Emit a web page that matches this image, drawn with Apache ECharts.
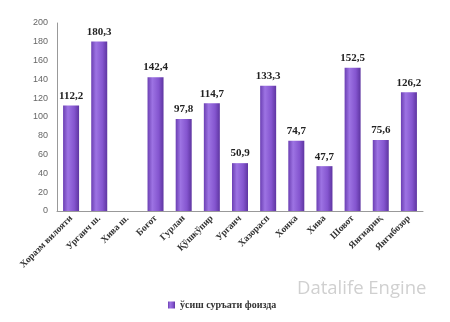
<!DOCTYPE html>
<html><head><meta charset="utf-8">
<script src="https://cdn.jsdelivr.net/npm/echarts@6/dist/echarts.min.js"></script>
<style>html,body{margin:0;padding:0;background:#fff}#c{width:450px;height:322px}</style>
</head><body><div id="c"></div>
<script>
var categories = ["Хоразм вилояти","Урганч ш.","Хива ш.","Боғот","Гурлан","Қўшкўпир","Урганч","Хазорасп","Хонка","Хива","Шовот","Янгиариқ","Янгибозор"];
var values = [112.2,180.3,null,142.4,97.8,114.7,50.9,133.3,74.7,47.7,152.5,75.6,126.2];
var seriesName = "ўсиш суръати фоизда";
var chart = echarts.init(document.getElementById('c'));
chart.setOption({
  animation:false,
  grid:{left:57,right:27,top:23,bottom:111},
  legend:{bottom:7,left:163,itemWidth:7,itemHeight:7,itemGap:3,
    textStyle:{fontFamily:'Liberation Serif',fontWeight:'bold',fontSize:10,color:'#333'},
    data:[{name:seriesName,icon:'rect'}]},
  graphic:[{type:'text',left:297,top:279,style:{text:'Datalife Engine',fontFamily:'Open Sans',fontSize:18.5,fill:'#d0d0d0'}}],
  xAxis:{type:'category',data:categories,
    axisLine:{lineStyle:{color:'#999'}},axisTick:{show:false},
    axisLabel:{rotate:45,interval:0,fontFamily:'Liberation Serif',fontWeight:'bold',fontSize:9.5,color:'#333',margin:6}},
  yAxis:{type:'value',min:0,max:200,interval:20,
    axisLine:{show:true,lineStyle:{color:'#999'}},axisTick:{show:false},splitLine:{show:false},
    axisLabel:{fontFamily:'Liberation Sans',fontSize:9,color:'#666',margin:9}},
  series:[{name:seriesName,type:'bar',data:values,barWidth:16,
    itemStyle:{color:new echarts.graphic.LinearGradient(0,0,1,0,[{offset:0,color:'#6b3fb3'},{offset:0.3,color:'#9d73e3'},{offset:0.7,color:'#8455cf'},{offset:1,color:'#5e35a1'}])},
    label:{show:true,position:'top',distance:4,fontFamily:'Liberation Serif',fontWeight:'bold',fontSize:11,color:'#222',
      formatter:function(p){return String(p.value).replace('.',',');}}}]
});
</script></body></html>
